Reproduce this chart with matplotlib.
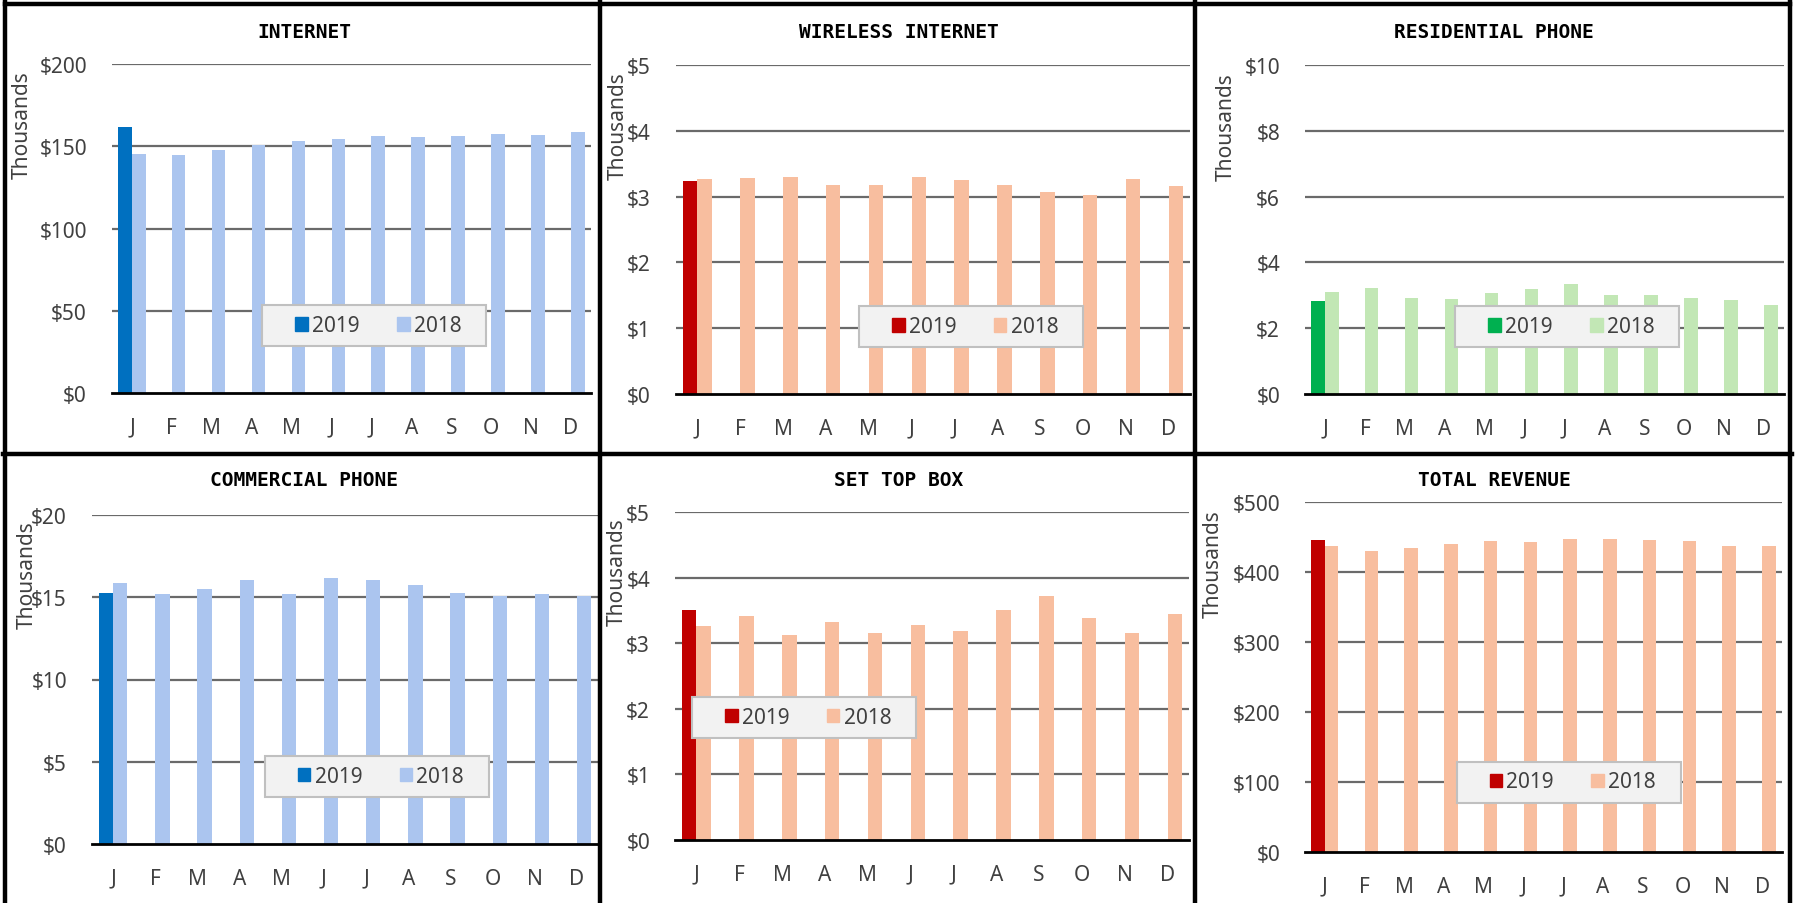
import numpy as np
import matplotlib
matplotlib.use("Agg")
import matplotlib.pyplot as plt
from matplotlib.patches import Patch, Rectangle
from matplotlib.lines import Line2D

W, H = 1797, 904

months = ["J", "F", "M", "A", "M", "J", "J", "A", "S", "O", "N", "D"]

# monthly revenue, in thousands of dollars
internet_2019 = [161.7]
internet_2018 = [145.2, 144.6, 147.7, 150.7, 152.9, 154.2, 156.0, 155.8, 156.4, 157.4, 157.0, 158.4]

wireless_2019 = [3.24]
wireless_2018 = [3.26, 3.28, 3.30, 3.18, 3.17, 3.30, 3.25, 3.18, 3.07, 3.03, 3.26, 3.16]

residential_2019 = [2.84]
residential_2018 = [3.10, 3.22, 2.92, 2.89, 3.06, 3.20, 3.34, 3.02, 3.01, 2.92, 2.86, 2.71]

commercial_2019 = [15.24]
commercial_2018 = [15.89, 15.22, 15.48, 16.03, 15.18, 16.15, 16.05, 15.76, 15.28, 15.06, 15.22, 15.08]

settop_2019 = [3.51]
settop_2018 = [3.26, 3.41, 3.12, 3.33, 3.16, 3.28, 3.19, 3.51, 3.72, 3.38, 3.15, 3.45]

total_2019 = [446.1]
total_2018 = [437.0, 429.9, 434.6, 440.4, 444.7, 443.2, 447.0, 447.5, 445.1, 444.2, 437.0, 437.5]

BLUE = ("#0070C0", "#ABC5EF")
RED = ("#C00000", "#F8BE9F")
GREEN = ("#00B050", "#C2E7B5")

# title, 2019, 2018, colours, y max, y step, axes box (px: left, top, right, bottom),
# title centre, "Thousands" position, legend centre (axes fraction)
panels = [
    ("INTERNET", internet_2019, internet_2018, BLUE, 200, 50,
     (112, 65, 591, 394), (304, 32), (22, 125), (0.548, 0.204)),
    ("WIRELESS INTERNET", wireless_2019, wireless_2018, RED, 5, 1,
     (676, 66, 1190, 395), (899, 32), (618, 126), (0.574, 0.204)),
    ("RESIDENTIAL PHONE", residential_2019, residential_2018, GREEN, 10, 2,
     (1305, 66, 1784, 395), (1494, 32), (1226, 127), (0.548, 0.204)),
    ("COMMERCIAL PHONE", commercial_2019, commercial_2018, BLUE, 20, 5,
     (92, 516, 598, 845), (304, 481), (27, 575), (0.563, 0.206)),
    ("SET TOP BOX", settop_2019, settop_2018, RED, 5, 1,
     (675, 513, 1189, 841), (899, 481), (617, 572), (0.251, 0.374)),
    ("TOTAL REVENUE", total_2019, total_2018, RED, 500, 100,
     (1305, 503, 1782, 853), (1494, 481), (1213, 564), (0.553, 0.200)),
]

plt.rcParams["font.family"] = ["Noto Sans", "DejaVu Sans"]
TXT = "#404040"

fig = plt.figure(figsize=(W / 100, H / 100), dpi=100)
fig.patch.set_facecolor("white")

x = np.arange(len(months))
bw = 0.34
legend_w, legend_h = 224, 41  # px

for (title, y19, y18, (c19, c18), ymax, ystep, box, tpos, kpos, lpos) in panels:
    x0, top, x1, bottom = box
    ax = fig.add_axes([x0 / W, 1 - bottom / H, (x1 - x0) / W, (bottom - top) / H])
    ax.bar(x[:len(y19)] - bw / 2, y19, bw, color=c19, zorder=3)
    ax.bar(x + bw / 2, y18, bw, color=c18, zorder=3)
    ax.set_xlim(-0.5, 11.5)
    ax.set_ylim(0, ymax)
    ticks = np.arange(0, ymax + ystep / 2, ystep)
    ax.set_yticks(ticks)
    ax.set_yticklabels([f"${t:g}" for t in ticks])
    ax.set_xticks(x)
    ax.set_xticklabels(months)
    ax.tick_params(axis="both", length=0, labelsize=15, labelcolor=TXT)
    ax.tick_params(axis="x", pad=17)
    ax.tick_params(axis="y", pad=18)
    for t in ticks[1:]:
        ax.axhline(t, color="#6A6A6A", lw=1.6, zorder=2)
    for s in ("top", "right", "left"):
        ax.spines[s].set_visible(False)
    ax.spines["bottom"].set_color("black")
    ax.spines["bottom"].set_linewidth(2)
    ax.spines["bottom"].set_zorder(4)

    # legend with a fixed-size grey box behind it
    lw_ax = legend_w / (x1 - x0)
    lh_ax = legend_h / (bottom - top)
    ax.add_patch(Rectangle((lpos[0] - lw_ax / 2, lpos[1] - lh_ax / 2), lw_ax, lh_ax,
                           transform=ax.transAxes, facecolor="#F2F2F2",
                           edgecolor="#C0C0C0", lw=1.5, zorder=5))
    handles = [Patch(color=c19, label="2019"), Patch(color=c18, label="2018")]
    leg = ax.legend(handles=handles, loc="center",
                    bbox_to_anchor=(lpos[0] + 0.008, lpos[1]), ncol=2,
                    frameon=False, fontsize=15, handlelength=0.6, handleheight=0.6,
                    handletextpad=0.2, columnspacing=1.8)
    leg.set_zorder(6)
    for t in leg.get_texts():
        t.set_color(TXT)

    fig.text(tpos[0] / W, 1 - tpos[1] / H, title, ha="center", va="center",
             family="DejaVu Sans Mono", fontweight="bold", fontsize=14, color="black")
    fig.text(kpos[0] / W, 1 - kpos[1] / H, "Thousands", ha="center", va="center",
             rotation=90, fontsize=15, color=TXT)

# black frame around the six cells
border = dict(color="black", lw=3.2, transform=fig.transFigure, zorder=10)
for xs, ys in [((5, 1790), (5, 5)), ((3, 1792), (455, 455)),
               ((5, 5), (3, 904)), ((600, 600), (3, 904)),
               ((1195, 1195), (3, 904)), ((1790, 1790), (3, 904))]:
    fig.add_artist(Line2D([v / W for v in xs], [1 - v / H for v in ys], **border))

fig.savefig("out.png", dpi=100, facecolor="white")
